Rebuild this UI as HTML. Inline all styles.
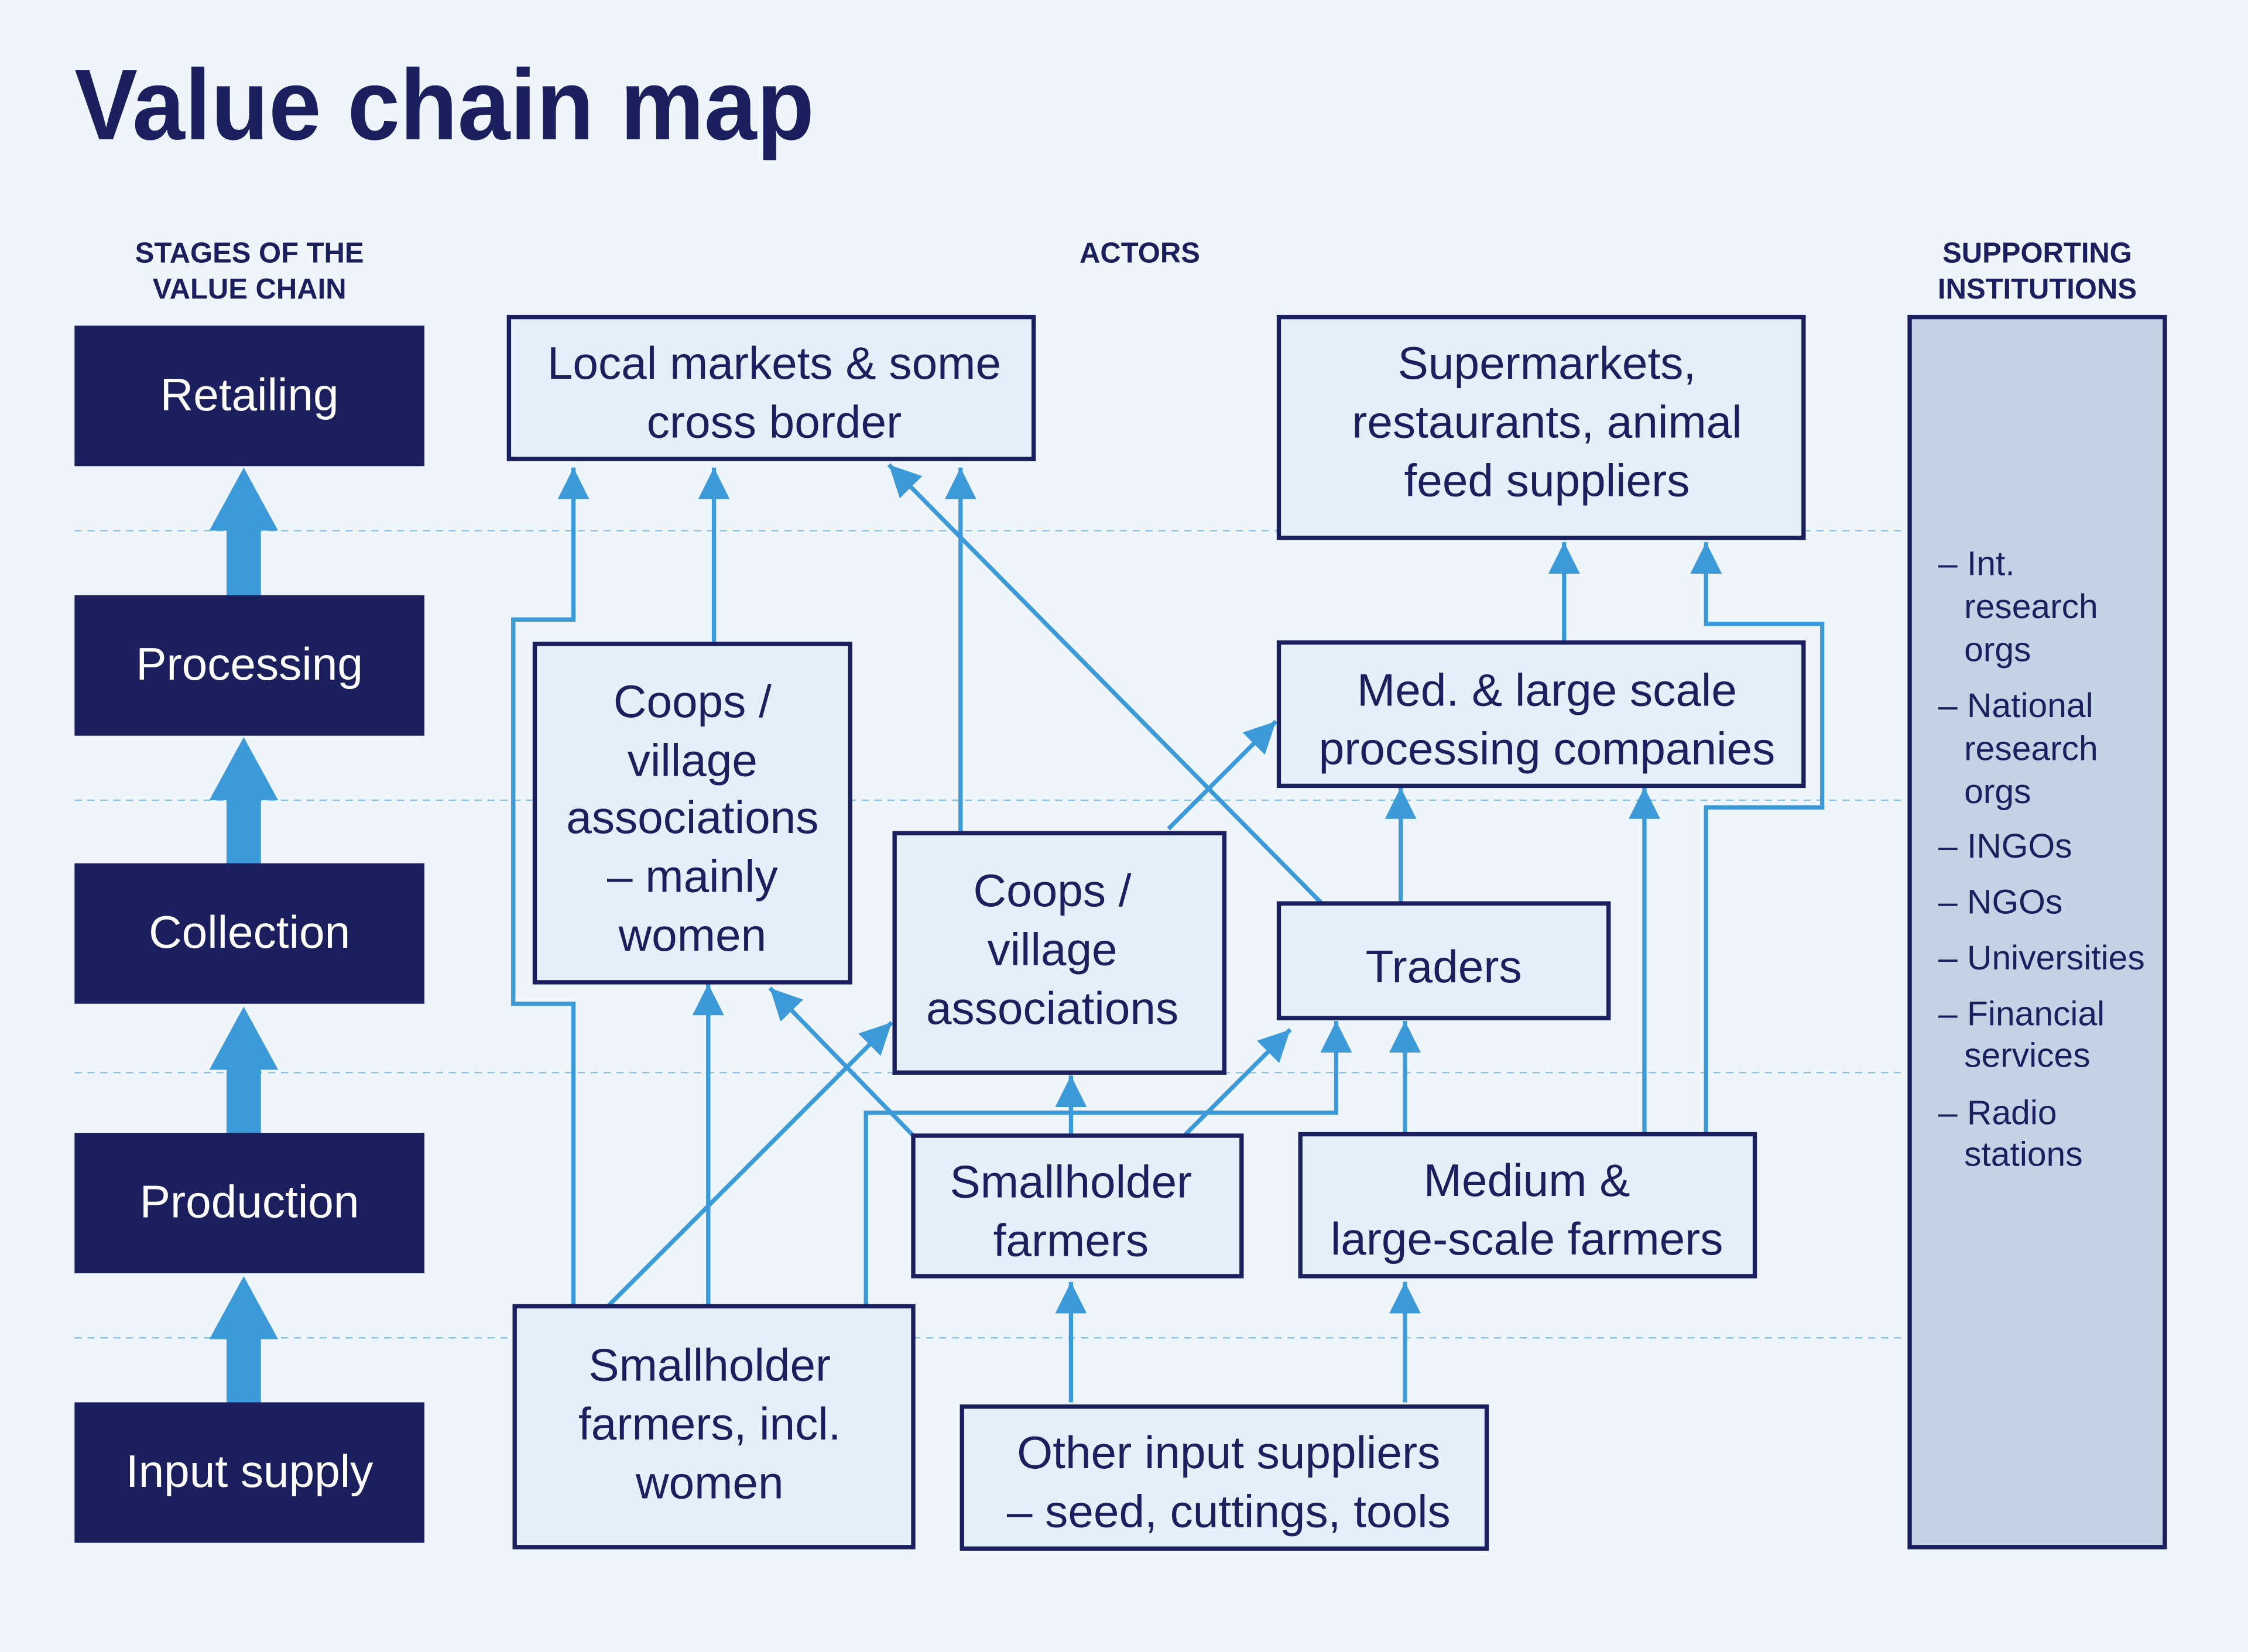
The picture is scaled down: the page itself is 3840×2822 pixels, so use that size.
<!DOCTYPE html>
<html><head><meta charset="utf-8"><style>
html,body{margin:0;padding:0;background:#eff6fb;}
svg{display:block;}
text{font-family:"Liberation Sans",sans-serif;}
</style></head><body>
<svg width="3840" height="2822" viewBox="0 0 1568 1152" xmlns="http://www.w3.org/2000/svg">
<defs>
<marker id="a" markerUnits="userSpaceOnUse" markerWidth="24" markerHeight="24" viewBox="0 0 24 24" refX="22" refY="12" orient="auto">
<path d="M0,1 L22,12 L0,23 Z" fill="#3d9ad8"/>
</marker>
</defs>
<rect width="1568" height="1152" fill="#eff6fb"/>
<text x="52" y="97" font-size="70" font-weight="bold" fill="#1b1f5e" textLength="516" lengthAdjust="spacingAndGlyphs">Value chain map</text>

<g font-size="20" font-weight="bold" fill="#1b1f5e" text-anchor="middle">
<text x="174" y="183">STAGES OF THE</text><text x="174" y="208">VALUE CHAIN</text>
<text x="795" y="183">ACTORS</text>
<text x="1421" y="183">SUPPORTING</text><text x="1421" y="208">INSTITUTIONS</text>
</g>

<g stroke="#8cc4ea" stroke-width="1" stroke-dasharray="5,4">
<line x1="52" y1="370" x2="1330" y2="370"/><line x1="52" y1="558" x2="1330" y2="558"/>
<line x1="52" y1="748" x2="1330" y2="748"/><line x1="52" y1="933" x2="1330" y2="933"/>
</g>

<g fill="#3d9ad8">
<rect x="158" y="368" width="24" height="48"/><path d="M146,370 L170,326 L194,370Z"/>
<rect x="158" y="556" width="24" height="48"/><path d="M146,558 L170,514 L194,558Z"/>
<rect x="158" y="744" width="24" height="48"/><path d="M146,746 L170,702 L194,746Z"/>
<rect x="158" y="932" width="24" height="48"/><path d="M146,934 L170,890 L194,934Z"/>
</g>
<g fill="#1b1f5e">
<rect x="52" y="227" width="244" height="98"/><rect x="52" y="415" width="244" height="98"/>
<rect x="52" y="602" width="244" height="98"/><rect x="52" y="790" width="244" height="98"/>
<rect x="52" y="978" width="244" height="98"/>
</g>
<g fill="#ffffff" font-size="32" text-anchor="middle">
<text x="174" y="286">Retailing</text><text x="174" y="474">Processing</text>
<text x="174" y="661">Collection</text><text x="174" y="849">Production</text>
<text x="174" y="1037">Input supply</text>
</g>

<g fill="none" stroke="#3d9ad8" stroke-width="3" marker-end="url(#a)">
<polyline points="400,911 400,700 358,700 358,432 400,432 400,326"/>
<line x1="498" y1="449" x2="498" y2="326"/>
<line x1="670" y1="581" x2="670" y2="326"/>
<line x1="922" y1="630" x2="620" y2="324"/>
<line x1="1091" y1="448" x2="1091" y2="378"/>
<polyline points="1190,791 1190,563 1271,563 1271,435 1190,435 1190,378"/>
<line x1="815" y1="578" x2="890" y2="503"/>
<line x1="977" y1="630" x2="977" y2="549"/>
<line x1="1147" y1="791" x2="1147" y2="549"/>
<line x1="494" y1="911" x2="494" y2="686"/>
<line x1="637" y1="792" x2="537" y2="689"/>
<line x1="424" y1="911" x2="622" y2="713"/>
<line x1="747" y1="792" x2="747" y2="750"/>
<line x1="826" y1="792" x2="900" y2="718"/>
<polyline points="604,911 604,776 932,776 932,712"/>
<line x1="980" y1="791" x2="980" y2="712"/>
<line x1="747" y1="978" x2="747" y2="894"/>
<line x1="980" y1="978" x2="980" y2="894"/>
</g>

<g fill="#e3eff9" stroke="#1b1f5e" stroke-width="3">
<rect x="355" y="221" width="366" height="99"/>
<rect x="892" y="221" width="366" height="154"/>
<rect x="373" y="449" width="220" height="236"/>
<rect x="892" y="448" width="366" height="100"/>
<rect x="624" y="581" width="230" height="167"/>
<rect x="892" y="630" width="230" height="80"/>
<rect x="637" y="792" width="229" height="98"/>
<rect x="907" y="791" width="317" height="99"/>
<rect x="359" y="911" width="278" height="168"/>
<rect x="671" y="981" width="366" height="99"/>
<rect x="1332" y="221" width="178" height="858" fill="#c3d3e5"/>
</g>

<g fill="#1b1f5e" font-size="32" text-anchor="middle">
<text x="540" y="264">Local markets &amp; some</text><text x="540" y="305">cross border</text>
<text x="1079" y="264">Supermarkets,</text><text x="1079" y="305">restaurants, animal</text><text x="1079" y="346">feed suppliers</text>
<text x="483" y="500">Coops /</text><text x="483" y="541">village</text><text x="483" y="581">associations</text><text x="483" y="622">– mainly</text><text x="483" y="663">women</text>
<text x="1079" y="492">Med. &amp; large scale</text><text x="1079" y="533">processing companies</text>
<text x="734" y="632">Coops /</text><text x="734" y="673">village</text><text x="734" y="714">associations</text>
<text x="1007" y="685">Traders</text>
<text x="747" y="835">Smallholder</text><text x="747" y="876">farmers</text>
<text x="1065" y="834">Medium &amp;</text><text x="1065" y="875">large-scale farmers</text>
<text x="495" y="963">Smallholder</text><text x="495" y="1004">farmers, incl.</text><text x="495" y="1045">women</text>
<text x="857" y="1024">Other input suppliers</text><text x="857" y="1065">– seed, cuttings, tools</text>
</g>

<g fill="#1b1f5e" font-size="24">
<text x="1352" y="401">– Int.</text><text x="1370" y="431">research</text><text x="1370" y="461">orgs</text>
<text x="1352" y="500">– National</text><text x="1370" y="530">research</text><text x="1370" y="560">orgs</text>
<text x="1352" y="598">– INGOs</text>
<text x="1352" y="637">– NGOs</text>
<text x="1352" y="676">– Universities</text>
<text x="1352" y="715">– Financial</text><text x="1370" y="744">services</text>
<text x="1352" y="784">– Radio</text><text x="1370" y="813">stations</text>
</g>
</svg>
</body></html>
